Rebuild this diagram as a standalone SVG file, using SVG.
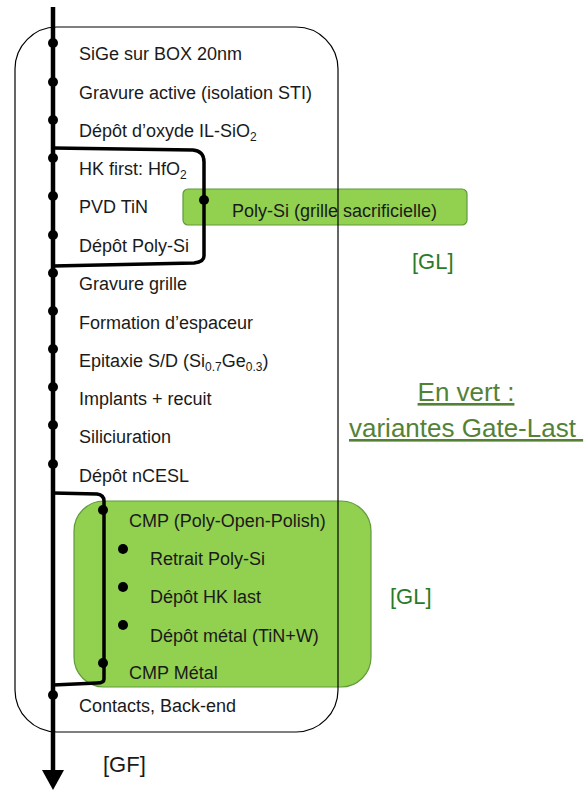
<svg xmlns="http://www.w3.org/2000/svg" width="588" height="790" viewBox="0 0 588 790">
<defs>
<style>
text{font-family:"Liberation Sans",Arial,sans-serif;fill:#1a1a1a;}
.t{font-size:18px;}
.gl{font-size:22px;fill:#2a7a2a;}
.leg{font-size:26px;fill:#548235;text-decoration:underline;}
.gbox{fill:#92d050;stroke:#5f9a3a;stroke-width:1.2;}
.dot{fill:#000;}
.br{fill:none;stroke:#000;stroke-width:3.5;}
</style>
</defs>
<rect width="588" height="790" fill="#fff"/>
<g id="green-gl1"><rect class="gbox" x="183" y="189" width="284" height="36" rx="5"/></g>
<g id="green-gl2"><rect class="gbox" x="74" y="501" width="297" height="186" rx="30"/></g>
<g id="flow-box"><rect x="15" y="27" width="323" height="705" rx="42" fill="none" stroke="#000" stroke-width="1.2"/></g>
<g id="connectors">
<line x1="53" y1="7" x2="53" y2="772" stroke="#000" stroke-width="4.5"/>
<polygon points="42,770 64,770 53,790" fill="#000"/>
<path class="br" d="M53,148 L193,150 Q204,151 204,162 L204,256 Q204,262 194,263 L53,266"/>
<path class="br" d="M53,493 L97,494 Q104,495 104,501 L104,679 Q104,683 97,683 L53,685"/>
</g>
<g id="dots">
<circle class="dot" cx="53" cy="43" r="5"/>
<circle class="dot" cx="53" cy="82" r="5"/>
<circle class="dot" cx="53" cy="120" r="5"/>
<circle class="dot" cx="53" cy="158" r="5"/>
<circle class="dot" cx="53" cy="196" r="5"/>
<circle class="dot" cx="53" cy="235" r="5"/>
<circle class="dot" cx="53" cy="273" r="5"/>
<circle class="dot" cx="53" cy="311" r="5"/>
<circle class="dot" cx="53" cy="349" r="5"/>
<circle class="dot" cx="53" cy="387" r="5"/>
<circle class="dot" cx="53" cy="425" r="5"/>
<circle class="dot" cx="53" cy="464" r="5"/>
<circle class="dot" cx="53" cy="695" r="5"/>
<circle class="dot" cx="204" cy="200" r="5"/>
<circle class="dot" cx="103" cy="510" r="5"/>
<circle class="dot" cx="103" cy="663" r="5"/>
<circle class="dot" cx="123" cy="549" r="5"/>
<circle class="dot" cx="123" cy="587" r="5"/>
<circle class="dot" cx="123" cy="625" r="5"/>
</g>
<g id="steps">
<text class="t" x="79" y="60">SiGe sur BOX 20nm</text>
<text class="t" x="79" y="98.5">Gravure active (isolation STI)</text>
<text class="t" x="79" y="137">Dépôt d’oxyde IL-SiO<tspan font-size="12" dy="4">2</tspan></text>
<text class="t" x="79" y="175">HK first: HfO<tspan font-size="12" dy="4">2</tspan></text>
<text class="t" x="79" y="213">PVD TiN</text>
<text class="t" x="79" y="252">Dépôt Poly-Si</text>
<text class="t" x="79" y="290">Gravure grille</text>
<text class="t" x="79" y="328.5">Formation d’espaceur</text>
<text class="t" x="79" y="367">Epitaxie S/D (Si<tspan font-size="12" dy="4">0.7</tspan><tspan dy="-4">Ge</tspan><tspan font-size="12" dy="4">0.3</tspan><tspan dy="-4">)</tspan></text>
<text class="t" x="79" y="405">Implants + recuit</text>
<text class="t" x="79" y="443">Siliciuration</text>
<text class="t" x="79" y="482">Dépôt nCESL</text>
<text class="t" x="129" y="527">CMP (Poly-Open-Polish)</text>
<text class="t" x="150" y="565">Retrait Poly-Si</text>
<text class="t" x="150" y="603">Dépôt HK last</text>
<text class="t" x="150" y="642">Dépôt métal (TiN+W)</text>
<text class="t" x="129" y="679">CMP Métal</text>
<text class="t" x="79" y="712">Contacts, Back-end</text>
<text class="t" x="232" y="217">Poly-Si (grille sacrificielle)</text>
</g>
<g id="labels">
<text class="gl" x="412" y="269">[GL]</text>
<text class="gl" x="390" y="604">[GL]</text>
<text class="gl" x="103" y="772" style="fill:#1a1a1a">[GF]</text>
<text class="leg" x="466" y="401" text-anchor="middle">En vert :</text>
<text class="leg" x="349" y="437" xml:space="preserve">variantes Gate-Last </text>
</g>
</svg>
